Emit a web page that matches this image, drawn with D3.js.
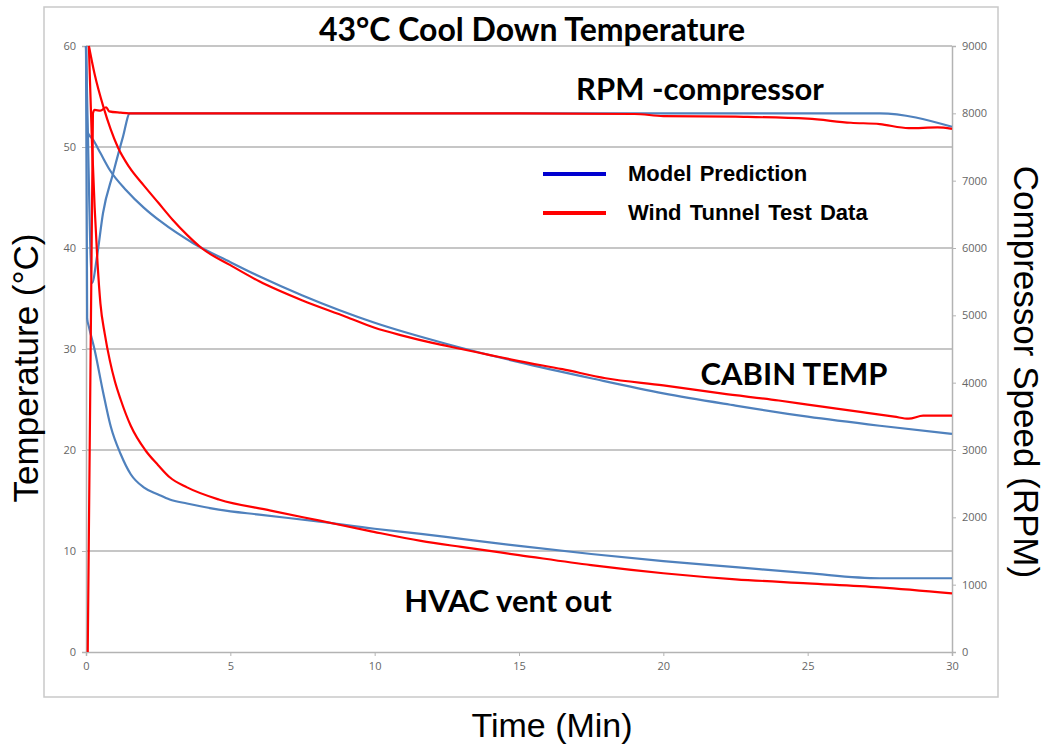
<!DOCTYPE html>
<html>
<head>
<meta charset="utf-8">
<script src="https://cdn.jsdelivr.net/npm/d3@7"></script>
<style>
  body { margin: 0; background: #fff; }
</style>
</head>
<body>
<script>
// time in minutes, temps in deg C, speed in RPM
const timeTicks = [0, 5, 10, 15, 20, 25, 30];
const tempTicks = [0, 10, 20, 30, 40, 50, 60];
const rpmTicks = [0, 1000, 2000, 3000, 4000, 5000, 6000, 7000, 8000, 9000];

const modelCabin = [[0,60],[0.05,51.5],[0.25,50.7],[0.5,49.4],[0.83,47.7],[1.4,45.7],[2,44],[2.6,42.6],[3.7,40.5],[5,38.6],[6,37.2],[7.5,35.3],[10,32.6],[12.5,30.5],[15,28.7],[17.5,27.1],[20,25.6],[22.5,24.4],[25,23.3],[27.5,22.4],[30,21.6]];
const testCabin = [[0.1,60],[0.3,57.2],[0.6,54],[0.85,51.8],[1.1,50],[1.5,48],[2,46.2],[2.5,44.5],[3,42.8],[3.5,41.3],[4,40],[5,38.3],[6,36.7],[7.5,34.8],[9,33.2],[10,32.1],[11,31.3],[12,30.6],[13,30],[14,29.4],[15,28.8],[16.5,28],[18,27.1],[20,26.4],[22,25.6],[24,24.9],[25,24.5],[26,24.1],[27,23.7],[28,23.3],[28.5,23.1],[29,23.4],[30,23.4]];
const modelVent = [[0,60],[0.04,33],[0.1,32.2],[0.3,29.9],[0.58,25.9],[0.86,22.3],[1.2,19.6],[1.55,17.6],[2,16.3],[2.5,15.6],[2.9,15.1],[3.5,14.7],[4.6,14.1],[6,13.6],[8.1,12.9],[10,12.2],[11.6,11.7],[13,11.2],[15,10.5],[17.5,9.7],[20,9],[22.5,8.4],[25,7.8],[27.5,7.3],[30,7.3]];
const testVent = [[0.1,60],[0.2,51],[0.3,44],[0.4,38.5],[0.5,34.5],[0.65,31.5],[0.83,28.8],[1,26.8],[1.2,25],[1.55,22.4],[2.05,20],[2.5,18.5],[2.9,17.3],[3.5,16.3],[4.6,15.1],[6.4,14],[8.1,13],[9.8,12],[11.6,11],[13,10.4],[15,9.6],[17.5,8.6],[20,7.8],[22.5,7.2],[25,6.8],[27.5,6.4],[30,5.8]];
const modelRpm = [[0,9000],[0.05,8000],[0.21,5480],[0.38,5870],[0.59,6520],[0.94,7110],[1.28,7650],[1.52,8000],[5,8000],[10,8000],[15,8000],[20,8000],[25,8000],[27.5,8000],[30,7800]];
const testRpm = [[0.06,0],[0.24,8000],[0.3,8050],[0.5,8040],[0.7,8090],[0.8,8030],[1.2,8010],[1.5,8000],[5,8000],[10,8000],[15,8000],[19,7990],[20,7960],[22.5,7950],[25,7920],[26.5,7860],[27.5,7840],[28.5,7780],[29.5,7790],[30,7770]];

const W = 1047, H = 747;
const plotL = 86, plotR = 952, plotT = 46, plotB = 652;
const blue = "#4f81bd", red = "#ff0000";

const svg = d3.select("body").append("svg")
    .attr("width", W)
    .attr("height", H);

svg.append("rect")
    .attr("x", 44).attr("y", 7)
    .attr("width", 954).attr("height", 690)
    .attr("fill", "none")
    .attr("stroke", "#c9c9c9")
    .attr("stroke-width", 1.5);

const x = d3.scaleLinear().domain([0, 30]).range([plotL, plotR]);
const y = d3.scaleLinear().domain([0, 60]).range([plotB, plotT]);
const y2 = d3.scaleLinear().domain([0, 9000]).range([plotB, plotT]);

// grid
svg.append("g").selectAll("line")
    .data(tempTicks.filter(d => d > 0))
    .enter().append("line")
    .attr("x1", plotL).attr("x2", plotR)
    .attr("y1", d => y(d)).attr("y2", d => y(d))
    .attr("stroke", "#b3b3b3")
    .attr("stroke-width", 1.5);

const tickFont = "'Open Sans', sans-serif";

const gx = svg.append("g")
    .attr("transform", `translate(0,${plotB})`)
    .call(d3.axisBottom(x).tickValues(timeTicks).tickSize(4).tickPadding(6));
const gy = svg.append("g")
    .attr("transform", `translate(${plotL},0)`)
    .call(d3.axisLeft(y).tickValues(tempTicks).tickSize(4).tickPadding(6));
const gy2 = svg.append("g")
    .attr("transform", `translate(${plotR},0)`)
    .call(d3.axisRight(y2).tickValues(rpmTicks).tickFormat(d3.format("d")).tickSize(4).tickPadding(6));

[gx, gy, gy2].forEach(g => {
  g.select(".domain").attr("stroke", "#b3b3b3").attr("stroke-width", 1.5);
  g.selectAll(".tick line").attr("stroke", "#b3b3b3");
  g.selectAll(".tick text")
      .attr("fill", "#666")
      .style("font-family", tickFont)
      .style("font-size", "11px");
});

// lines
const line = d3.line()
    .x(d => x(d[0]))
    .y(d => y(d[1]))
    .curve(d3.curveMonotoneX);
const lineRpm = d3.line()
    .x(d => x(d[0]))
    .y(d => y2(d[1]))
    .curve(d3.curveMonotoneX);

const allSeries = [
  { data: modelRpm, color: blue, rpm: true },
  { data: modelCabin, color: blue },
  { data: modelVent, color: blue },
  { data: testRpm, color: red, rpm: true },
  { data: testCabin, color: red },
  { data: testVent, color: red }
];

svg.append("g").selectAll("path")
    .data(allSeries)
    .enter().append("path")
    .attr("d", s => s.rpm ? lineRpm(s.data) : line(s.data))
    .attr("fill", "none")
    .attr("stroke", s => s.color)
    .attr("stroke-width", 2.2)
    .attr("stroke-linejoin", "round");

// titles and labels
const bold = "Lato, 'Open Sans', sans-serif";
svg.append("text")
    .attr("x", 532).attr("y", 41)
    .attr("text-anchor", "middle")
    .style("font-family", bold).style("font-weight", "bold").style("font-size", "32px")
    .text("43°C Cool Down Temperature");

const notes = [
  { text: "RPM -compressor", x: 700, y: 100 },
  { text: "CABIN TEMP", x: 794, y: 385 },
  { text: "HVAC vent out", x: 508, y: 612 }
];
svg.append("g").selectAll("text")
    .data(notes)
    .enter().append("text")
    .attr("x", d => d.x).attr("y", d => d.y)
    .attr("text-anchor", "middle")
    .style("font-family", bold).style("font-weight", "bold").style("font-size", "31px")
    .text(d => d.text);

svg.append("text")
    .attr("x", 552).attr("y", 737)
    .attr("text-anchor", "middle")
    .style("font-family", "'Liberation Sans', Arial, sans-serif").style("font-size", "34px")
    .text("Time (Min)");

svg.append("text")
    .attr("transform", "translate(38,368) rotate(-90)")
    .attr("text-anchor", "middle")
    .style("font-family", "'Liberation Sans', Arial, sans-serif").style("font-size", "35px")
    .text("Temperature (°C)");

svg.append("text")
    .attr("transform", "translate(1014,372) rotate(90)")
    .attr("text-anchor", "middle")
    .style("font-family", "'Liberation Sans', Arial, sans-serif").style("font-size", "35px")
    .text("Compressor Speed (RPM)");

// legend
const legend = [
  { label: "Model Prediction", color: "#0000d0", y: 174 },
  { label: "Wind Tunnel Test Data", color: "#ff0000", y: 213 }
];
const lg = svg.append("g").selectAll("g")
    .data(legend)
    .enter().append("g");
lg.append("line")
    .attr("x1", 543).attr("x2", 606)
    .attr("y1", d => d.y).attr("y2", d => d.y)
    .attr("stroke", d => d.color)
    .attr("stroke-width", 4);
lg.append("text")
    .attr("x", 628).attr("y", d => d.y + 7)
    .style("font-family", "'Liberation Sans', Arial, sans-serif")
    .style("font-weight", "bold").style("font-size", "22px")
    .style("word-spacing", "2px")
    .text(d => d.label);
</script>
</body>
</html>
